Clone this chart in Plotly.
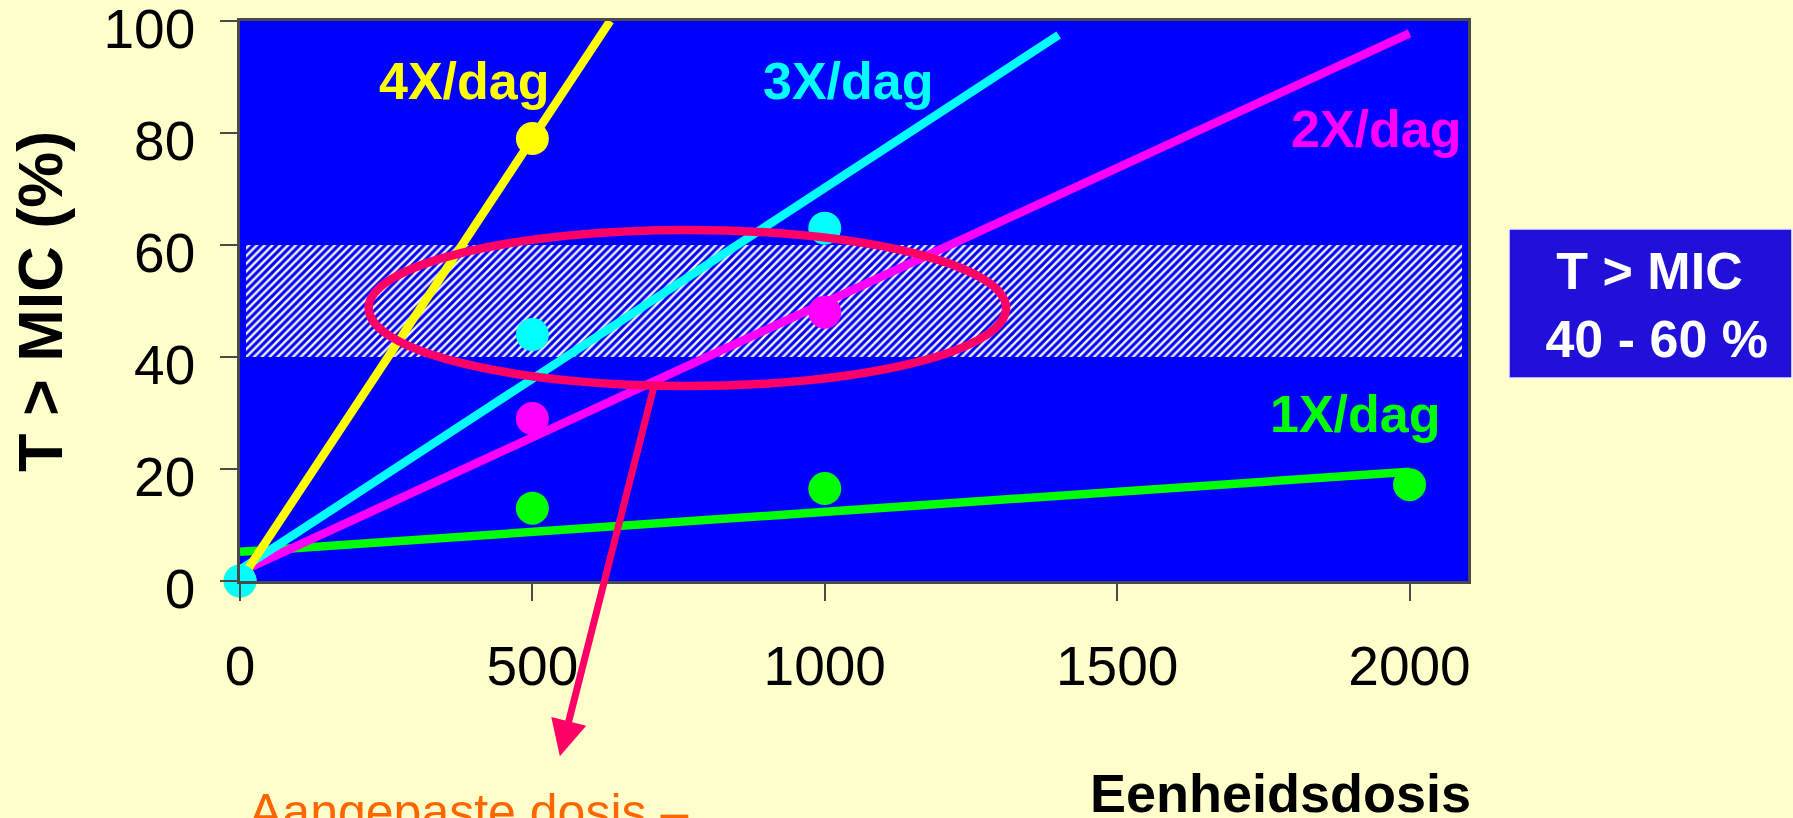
import plotly.graph_objects as go

# Measured T > MIC (%) per unit dose, by dosing frequency
dose_4x = [0, 500]
tmic_4x = [0, 79]
dose_3x = [500, 1000, 0]
tmic_3x = [44, 63, 0]
dose_2x = [500, 1000]
tmic_2x = [29, 48]
dose_1x = [500, 1000, 2000]
tmic_1x = [13, 16.5, 17.2]

# Trend lines (start and end of each fitted line)
fit_x_4x, fit_y_4x = [0, 633], [0, 100]
fit_x_3x, fit_y_3x = [0, 1400], [2, 97.5]
fit_x_2x, fit_y_2x = [0, 2000], [1.6, 97.8]
fit_x_1x, fit_y_1x = [0, 2000], [5.2, 19.5]

# Target band for T > MIC
band_low, band_high = 40, 60
band_x_from, band_x_to = 10, 2090

x_ticks = [0, 500, 1000, 1500, 2000]
y_ticks = [0, 20, 40, 60, 80, 100]

YELLOW, CYAN, MAGENTA, GREEN = "#FFFF00", "#00FFFF", "#FF00FF", "#00FF00"
RED = "#FF0066"
FONT = "Liberation Sans, Arial, sans-serif"

fig = go.Figure()

# hatched target band
fig.add_trace(go.Bar(
    x=[(band_x_from + band_x_to) / 2], y=[band_high - band_low], base=[band_low],
    width=[band_x_to - band_x_from],
    marker=dict(color="#0000FF", line=dict(width=0),
                pattern=dict(shape="/", size=5.5, solidity=0.45,
                             fgcolor="#F4F4E6", bgcolor="#0000FF", fillmode="replace")),
    hoverinfo="skip", showlegend=False,
))

for fx, fy, col in [(fit_x_1x, fit_y_1x, GREEN), (fit_x_2x, fit_y_2x, MAGENTA),
                    (fit_x_3x, fit_y_3x, CYAN), (fit_x_4x, fit_y_4x, YELLOW)]:
    fig.add_trace(go.Scatter(x=fx, y=fy, mode="lines",
                             line=dict(color=col, width=8.5),
                             showlegend=False, hoverinfo="skip"))

for dx, dy, col in [(dose_1x, tmic_1x, GREEN), (dose_2x, tmic_2x, MAGENTA),
                    (dose_4x, tmic_4x, YELLOW), (dose_3x, tmic_3x, CYAN)]:
    fig.add_trace(go.Scatter(x=dx, y=dy, mode="markers",
                             marker=dict(color=col, size=33, line=dict(width=0)),
                             cliponaxis=False, showlegend=False))

# series labels
labels = [("4X/dag", 384, 89.3, YELLOW), ("3X/dag", 1040, 89.3, CYAN),
          ("2X/dag", 1943, 80.7, MAGENTA), ("1X/dag", 1908, 29.8, GREEN)]
for txt, lx, ly, col in labels:
    fig.add_annotation(x=lx, y=ly, xref="x", yref="y", text="<b>%s</b>" % txt,
                       showarrow=False, xanchor="center", yanchor="middle",
                       font=dict(family=FONT, size=52, color=col))

# ellipse around the adjusted dosing region
fig.add_shape(type="circle", xref="x", yref="y", x0=220, x1=1310, y0=34.8, y1=62.7,
              line=dict(color=RED, width=8.5), layer="above")

# arrow down to the adjusted dose note
fig.add_annotation(x=547, y=-31.3, xref="x", yref="y", ax=708, ay=34.8,
                   axref="x", ayref="y", text="", showarrow=True,
                   arrowhead=2, arrowsize=1.03, arrowwidth=7, arrowcolor=RED,
                   standoff=0, startstandoff=0)

# axis titles
fig.add_annotation(x=-0.1629, y=0.5, xref="paper", yref="paper",
                   text="<b>T > MIC (%)</b>", textangle=-90, showarrow=False,
                   xanchor="center", yanchor="middle",
                   font=dict(family=FONT, size=63, color="black"))
fig.add_annotation(x=0.847, y=-0.3786, xref="paper", yref="paper",
                   text="<b>Eenheidsdosis</b>", showarrow=False,
                   xanchor="center", yanchor="middle",
                   font=dict(family=FONT, size=54, color="black"))
fig.add_annotation(x=0.0057, y=-0.412, xref="paper", yref="paper",
                   text="Aangepaste dosis \u2013", showarrow=False,
                   xanchor="left", yanchor="middle",
                   font=dict(family=FONT, size=50, color="#FF6600"))

# target box on the right
fig.add_shape(type="rect", xref="paper", yref="paper",
              x0=1.0334, x1=1.2638, y0=0.3625, y1=0.6286,
              fillcolor="#2010D8", line=dict(color="#E8E8FF", width=1.5), layer="above")
fig.add_annotation(x=1.1482, y=0.492, xref="paper", yref="paper",
                   text="<b>T > MIC<br>\u00a040 - 60 %</b>", showarrow=False,
                   xanchor="center", yanchor="middle", align="center",
                   font=dict(family=FONT, size=52, color="white"))

fig.update_layout(
    width=1793, height=818,
    margin=dict(l=240, r=325, t=21, b=237),
    paper_bgcolor="#FFFFCC", plot_bgcolor="#0000FF",
    showlegend=False, bargap=0,
    xaxis=dict(range=[0, 2100], tickvals=x_ticks, ticktext=[str(v) for v in x_ticks],
               showgrid=False, zeroline=False, showline=True, linecolor="#4A4A4A",
               linewidth=2.5, mirror=True, ticks="outside", ticklen=17, tickwidth=1.5,
               tickcolor="#4A4A4A", ticklabelstandoff=18, ticklabeloverflow="allow",
               automargin=False,
               tickfont=dict(family=FONT, size=55, color="black")),
    yaxis=dict(range=[0, 100], tickvals=y_ticks, ticktext=[str(v) for v in y_ticks],
               showgrid=False, zeroline=False, showline=True, linecolor="#4A4A4A",
               linewidth=2.5, mirror=True, ticks="outside", ticklen=17, tickwidth=1.5,
               tickcolor="#4A4A4A", ticklabelstandoff=14, ticklabelshift=8,
               ticklabeloverflow="allow", automargin=False,
               tickfont=dict(family=FONT, size=55, color="black")),
)

fig.write_html("out.html")
